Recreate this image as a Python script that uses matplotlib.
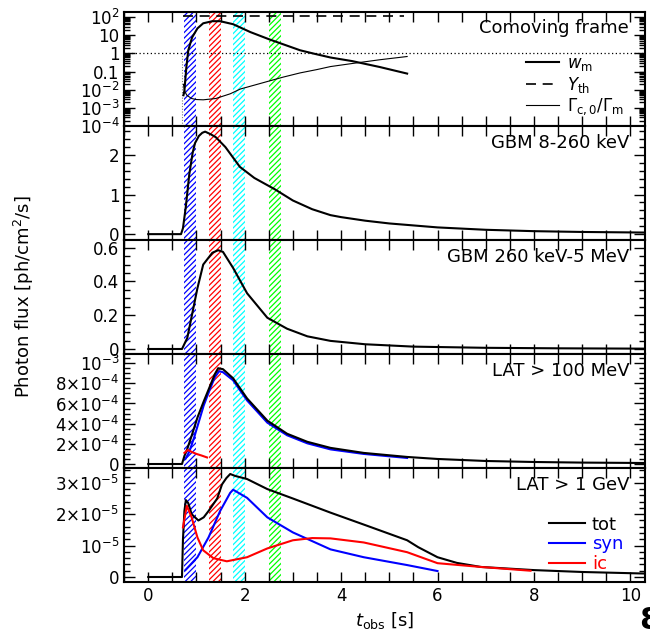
import numpy as np
import matplotlib
matplotlib.use("Agg")
import matplotlib.pyplot as plt
from matplotlib.ticker import MultipleLocator, FixedLocator, FixedFormatter, LogLocator, NullFormatter

# --- data -----------------------------------------------------------------
bands = [(0.75, 1.0, "blue"), (1.25, 1.5, "red"), (1.75, 2.0, "cyan"), (2.5, 2.75, "lime")]

# comoving frame
t_wm = [0.73, 0.75, 0.79, 0.83, 0.91, 1.02, 1.14, 1.33, 1.49, 1.76, 2.12, 2.51, 2.80, 3.15, 3.42, 3.78, 4.23, 4.8, 5.37]
wm = [0.005, 0.009, 0.17, 1.5, 7.7, 24, 46, 60, 60, 41, 15, 6, 3.2, 1.5, 1.0, 0.6, 0.38, 0.18, 0.078]
t_yth = [0.72, 5.3]
yth = [110, 110]
t_yth_rise = [0.71, 0.71]
yth_rise = [1e-4, 1.0]
t_gam = [0.73, 0.76, 0.8, 0.9, 1.0, 1.14, 1.4, 1.7, 1.91, 2.2, 2.5, 2.8, 3.15, 3.5, 3.78, 4.23, 4.8, 5.37]
gam = [0.02, 0.008, 0.005, 0.0033, 0.0029, 0.0028, 0.0033, 0.006, 0.011, 0.018, 0.03, 0.05, 0.085, 0.13, 0.19, 0.28, 0.45, 0.68]

# GBM 8-260 keV
t_gbm1 = [0, 0.68, 0.72, 0.78, 0.85, 0.92, 0.97, 1.05, 1.12, 1.18, 1.3, 1.4, 1.6, 1.9, 2.2, 2.63, 3.0, 3.4, 3.78, 4.0, 4.5, 5.0, 6.0, 7.0, 8.0, 9.0, 10.3]
gbm1 = [0, 0, 0.15, 0.7, 1.5, 2.05, 2.3, 2.48, 2.56, 2.59, 2.52, 2.45, 2.2, 1.7, 1.42, 1.13, 0.85, 0.63, 0.48, 0.43, 0.34, 0.27, 0.17, 0.11, 0.075, 0.055, 0.04]

# GBM 260 keV-5 MeV
t_gbm2 = [0, 0.7, 0.81, 0.92, 1.02, 1.14, 1.33, 1.45, 1.55, 1.76, 2.05, 2.47, 2.88, 3.3, 3.78, 4.5, 5.5, 7.0, 8.5, 10.3]
gbm2 = [0, 0, 0.066, 0.22, 0.36, 0.5, 0.57, 0.585, 0.575, 0.48, 0.33, 0.185, 0.12, 0.075, 0.048, 0.028, 0.014, 0.007, 0.004, 0.002]

# LAT > 100 MeV
t_l1_tot = [0, 0.70, 0.75, 0.81, 0.9, 1.02, 1.15, 1.27, 1.38, 1.45, 1.55, 1.76, 2.05, 2.47, 2.88, 3.3, 3.78, 4.47, 5.37, 6.0, 7.0, 8.0, 9.0, 10.3]
l1_tot = [0, 0, 0.8e-4, 1.5e-4, 2.8e-4, 4.6e-4, 6.2e-4, 7.6e-4, 8.9e-4, 9.5e-4, 9.4e-4, 8.5e-4, 6.5e-4, 4.3e-4, 3.0e-4, 2.2e-4, 1.6e-4, 1.1e-4, 0.7e-4, 0.5e-4, 0.3e-4, 0.2e-4, 0.14e-4, 0.1e-4]
t_l1_syn = [0.77, 0.85, 0.95, 1.05, 1.15, 1.27, 1.38, 1.47, 1.55, 1.76, 2.05, 2.47, 2.88, 3.3, 3.78, 4.47, 5.37]
l1_syn = [0.5e-4, 1.2e-4, 2.6e-4, 4.2e-4, 5.8e-4, 7.3e-4, 8.6e-4, 9.2e-4, 9.1e-4, 8.3e-4, 6.3e-4, 4.1e-4, 2.85e-4, 2.05e-4, 1.45e-4, 1.0e-4, 0.6e-4]
t_l1_ic = [0.75, 0.82, 0.9, 1.0, 1.1, 1.22]
l1_ic = [1.1e-4, 1.4e-4, 1.2e-4, 1.0e-4, 0.85e-4, 0.65e-4]

# LAT > 1 GeV
t_l2_tot = [0, 0.70, 0.72, 0.75, 0.78, 0.83, 0.9, 1.04, 1.15, 1.25, 1.43, 1.53, 1.62, 1.70, 1.8, 2.05, 2.47, 3.0, 3.78, 4.47, 5.37, 5.6, 6.0, 6.4, 6.9, 8.0, 9.0, 10.3]
l2_tot = [0, 0, 1.2e-5, 2.1e-5, 2.45e-5, 2.35e-5, 2.0e-5, 1.8e-5, 1.9e-5, 2.1e-5, 2.5e-5, 2.95e-5, 3.15e-5, 3.28e-5, 3.22e-5, 3.12e-5, 2.8e-5, 2.5e-5, 2.05e-5, 1.67e-5, 1.17e-5, 0.95e-5, 0.63e-5, 0.45e-5, 0.32e-5, 0.22e-5, 0.16e-5, 0.11e-5]
t_l2_syn = [0.77, 1.02, 1.25, 1.49, 1.70, 1.76, 2.05, 2.47, 3.0, 3.78, 4.47, 5.37, 6.0]
l2_syn = [0.22e-5, 0.63e-5, 1.26e-5, 2.1e-5, 2.68e-5, 2.78e-5, 2.52e-5, 1.9e-5, 1.42e-5, 0.88e-5, 0.63e-5, 0.38e-5, 0.19e-5]
t_l2_ic = [0.72, 0.8, 0.9, 1.02, 1.14, 1.35, 1.63, 2.05, 2.47, 3.0, 3.4, 3.78, 4.47, 5.37, 6.0, 6.9, 7.93]
l2_ic = [1.58e-5, 2.27e-5, 1.9e-5, 1.26e-5, 0.85e-5, 0.6e-5, 0.5e-5, 0.63e-5, 0.91e-5, 1.17e-5, 1.24e-5, 1.23e-5, 1.1e-5, 0.79e-5, 0.44e-5, 0.32e-5, 0.2e-5]

# --- plotting ---------------------------------------------------------------
plt.rcParams["font.family"] = "DejaVu Sans"
plt.rcParams["font.size"] = 12
plt.rcParams["hatch.linewidth"] = 0.9
plt.rcParams["axes.linewidth"] = 1.5

lab_fs = 13

fig = plt.figure(figsize=(6.5, 6.37), dpi=100)
axes = fig.subplots(5, 1, sharex=True)
fig.subplots_adjust(left=0.191, right=0.992, top=0.981, bottom=0.0863, hspace=0)

for ax in axes:
    for x0, x1, c in bands:
        ax.axvspan(x0, x1, facecolor="none", edgecolor=c, hatch="//////", linewidth=0, zorder=0)
    ax.tick_params(which="both", direction="in", top=True, right=True, width=1)
    ax.tick_params(which="major", length=8)
    ax.tick_params(which="minor", length=4)
    ax.tick_params(axis="x", which="both", length=7)
    ax.xaxis.set_major_locator(MultipleLocator(2))
    ax.xaxis.set_minor_locator(MultipleLocator(0.5))

lw = 1.5

# comoving frame
ax = axes[0]
ax.set_yscale("log")
ax.axhline(1, color="k", ls=(0, (1, 2)), lw=0.9)
ax.plot(t_yth_rise, yth_rise, color="0.5", ls=(0, (1, 1.5)), lw=0.8)
ax.plot(t_wm, wm, color="k", lw=lw, label=r"$w_{\rm m}$")
ax.plot(t_yth, yth, color="k", lw=1.2, ls=(0, (6, 4)), label=r"$Y_{\rm th}$")
ax.plot(t_gam, gam, color="k", lw=0.8, label=r"$\Gamma_{\rm c,0}/\Gamma_{\rm m}$")
ax.set_ylim(1e-4, 190)
ax.yaxis.set_major_locator(FixedLocator([1e-4, 1e-3, 1e-2, 0.1, 1, 10, 100]))
ax.yaxis.set_major_formatter(FixedFormatter([r"$10^{-4}$", r"$10^{-3}$", r"$10^{-2}$", "0.1", "1", "10", r"$10^{2}$"]))
ax.yaxis.set_minor_locator(LogLocator(base=10, subs=np.arange(2, 10), numticks=20))
ax.yaxis.set_minor_formatter(NullFormatter())
ax.text(0.97, 0.86, "Comoving frame", transform=ax.transAxes, ha="right", va="center", fontsize=lab_fs)
ax.legend(loc="lower right", bbox_to_anchor=(0.99, -0.05), frameon=False, handlelength=2.0,
          labelspacing=0.1, handletextpad=0.5)

# GBM 8-260 keV
ax = axes[1]
ax.plot(t_gbm1, gbm1, color="k", lw=lw)
ax.set_ylim(-0.15, 2.73)
ax.yaxis.set_major_locator(MultipleLocator(1))
ax.yaxis.set_minor_locator(MultipleLocator(0.2))
ax.text(0.97, 0.85, "GBM 8-260 keV", transform=ax.transAxes, ha="right", va="center", fontsize=lab_fs)

# GBM 260 keV-5 MeV
ax = axes[2]
ax.plot(t_gbm2, gbm2, color="k", lw=lw)
ax.set_ylim(-0.03, 0.645)
ax.yaxis.set_major_locator(MultipleLocator(0.2))
ax.yaxis.set_minor_locator(MultipleLocator(0.05))
ax.yaxis.set_major_formatter(plt.FuncFormatter(lambda v, p: "0" if abs(v) < 1e-9 else f"{v:.1f}"))
ax.text(0.97, 0.85, "GBM 260 keV-5 MeV", transform=ax.transAxes, ha="right", va="center", fontsize=lab_fs)

# LAT > 100 MeV
ax = axes[3]
ax.plot(t_l1_syn, l1_syn, color="b", lw=lw)
ax.plot(t_l1_tot, l1_tot, color="k", lw=lw)
ax.plot(t_l1_ic, l1_ic, color="r", lw=lw)
ax.set_ylim(-0.4e-4, 1.09e-3)
ax.yaxis.set_major_locator(FixedLocator([0, 2e-4, 4e-4, 6e-4, 8e-4, 1e-3]))
ax.yaxis.set_major_formatter(FixedFormatter(["0", r"$2{\times}10^{-4}$", r"$4{\times}10^{-4}$",
                                             r"$6{\times}10^{-4}$", r"$8{\times}10^{-4}$", r"$10^{-3}$"]))
ax.yaxis.set_minor_locator(MultipleLocator(0.5e-4))
ax.text(0.97, 0.85, "LAT > 100 MeV", transform=ax.transAxes, ha="right", va="center", fontsize=lab_fs)

# LAT > 1 GeV
ax = axes[4]
ax.plot(t_l2_tot, l2_tot, color="k", lw=lw, label="tot")
ax.plot(t_l2_syn, l2_syn, color="b", lw=lw, label="syn")
ax.plot(t_l2_ic, l2_ic, color="r", lw=lw, label="ic")
ax.set_ylim(-0.16e-5, 3.47e-5)
ax.yaxis.set_major_locator(FixedLocator([0, 1e-5, 2e-5, 3e-5]))
ax.yaxis.set_major_formatter(FixedFormatter(["0", r"$10^{-5}$", r"$2{\times}10^{-5}$", r"$3{\times}10^{-5}$"]))
ax.yaxis.set_minor_locator(MultipleLocator(0.2e-5))
ax.text(0.97, 0.85, "LAT > 1 GeV", transform=ax.transAxes, ha="right", va="center", fontsize=lab_fs)
ax.legend(loc="lower right", bbox_to_anchor=(0.99, -0.065), frameon=False, handlelength=2.0,
          labelspacing=0.1, handletextpad=0.4, labelcolor="linecolor", fontsize=lab_fs)
ax.set_xlim(-0.5, 10.3)
ax.set_xlabel(r"$t_{\rm obs}$ [s]", fontsize=lab_fs)

fig.text(0.037, 0.534, r"Photon flux [ph/cm$^2$/s]", rotation=90, ha="center", va="center", fontsize=13)
fig.text(0.983, 0.012, "8", fontsize=22, fontweight="bold")

fig.savefig("out.png", dpi=100)
